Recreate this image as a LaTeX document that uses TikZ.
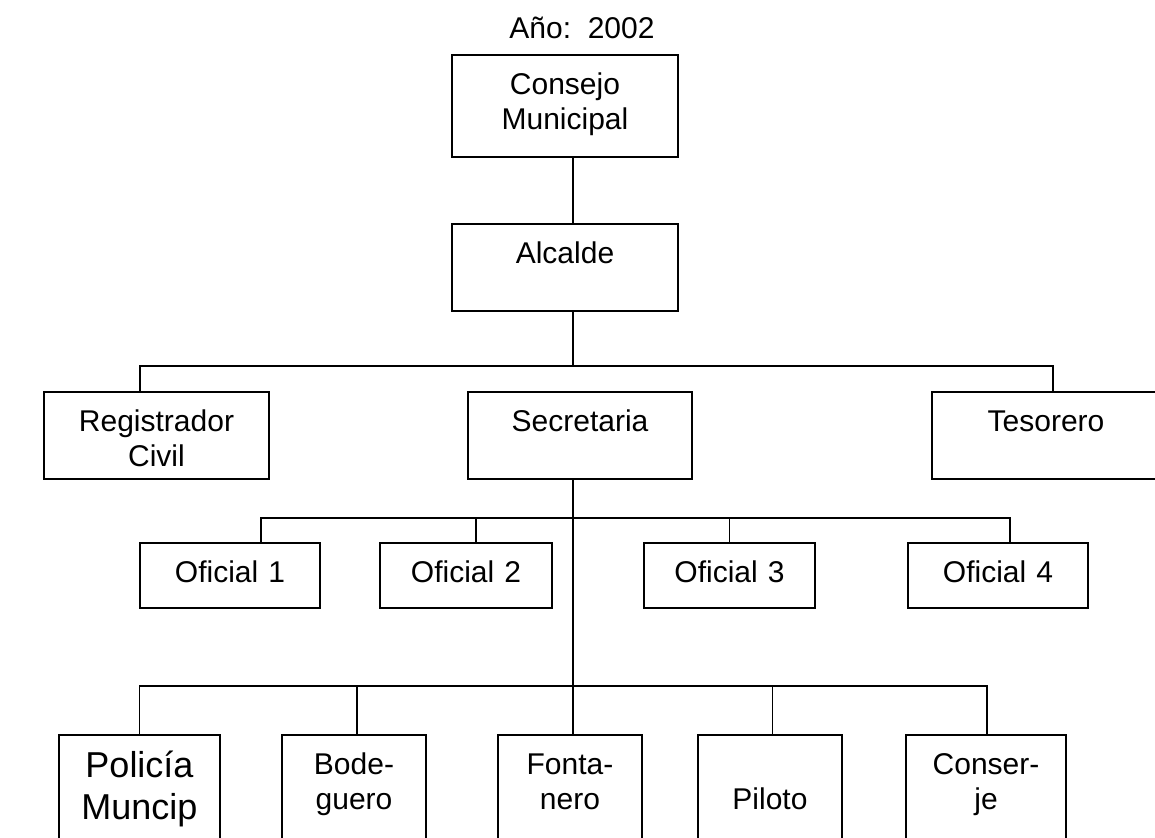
\documentclass[tikz,border=0pt]{standalone}
\usepackage{fontspec}
\setmainfont{Liberation Sans}
\usepackage{tikz}

\begin{document}
\begin{tikzpicture}[x=1pt,y=-1pt,line width=1.7pt]
\tikzstyle{every node}+=[inner sep=0pt, font=\fontsize{30}{34.5}\selectfont]
\tikzstyle{cargo}=[draw, anchor=north, align=center, text height=40pt]
\useasboundingbox (0,0) rectangle (1155,837);
\clip (0,0) rectangle (1155,837);
\node[anchor=base] (anio) at (582,39) {Año:\ \ 2002};
% jefatura
\node[cargo, text width=226pt, text depth=62pt] (consejo) at (565,54) {Consejo\\Municipal};
\node[cargo, text width=226pt, text depth=47pt] (alcalde) at (565,223) {Alcalde};
% segundo nivel
\node[cargo, text width=225pt, text depth=47pt] (registro) at (156.5,391) {Registrador\\Civil};
\node[cargo, text width=224pt, text depth=47pt] (secretaria) at (580,391) {Secretaria};
\node[cargo, text width=228pt, text depth=47pt] (tesorero) at (1046,391) {Tesorero};
% oficiales
\node[cargo, text width=180pt, text depth=25pt] (oficial1) at (230,542) {Oficial 1};
\node[cargo, text width=172pt, text depth=25pt] (oficial2) at (466,542) {Oficial 2};
\node[cargo, text width=171pt, text depth=25pt] (oficial3) at (729.5,542) {Oficial 3};
\node[cargo, text width=180pt, text depth=25pt] (oficial4) at (998,542) {Oficial 4};
% servicios
\node[cargo, text width=161pt, text height=43pt, text depth=123pt, font=\fontsize{36}{41.4}\selectfont] (policia) at (139.5,734) {Policía\\Muncip};
\node[cargo, text width=144pt, text depth=126pt] (bodeguero) at (354,734) {Bode-\\guero};
\node[cargo, text width=144pt, text depth=126pt] (fontanero) at (570,734) {Fonta-\\nero};
\node[cargo, text width=144pt, text depth=126pt] (piloto) at (770,734) {\mbox{}\\Piloto};
\node[cargo, text width=160pt, text depth=126pt] (conserje) at (986,734) {Conser-\\je};
% lineas
\coordinate (bus1) at (573,366);
\coordinate (bus2) at (573,518);
\coordinate (bus3) at (573,686);
\draw ([xshift=8pt]consejo.south) -- ([xshift=8pt]alcalde.north);
\draw ([xshift=8pt]alcalde.south) -- (bus1);
\draw (bus1) -| ([xshift=-16.5pt]registro.north);
\draw (bus1) -| ([xshift=7pt]tesorero.north);
\draw ([xshift=-7pt]secretaria.south) -- ([xshift=3pt]fontanero.north);
\draw (bus2) -| ([xshift=31pt]oficial1.north);
\draw (bus2) -| ([xshift=10pt]oficial2.north);
\draw (bus2) -| (oficial3.north);
\draw (bus2) -| ([xshift=12pt]oficial4.north);
\draw (bus3) -| (policia.north);
\draw (bus3) -| ([xshift=3pt]bodeguero.north);
\draw (bus3) -| ([xshift=2.5pt]piloto.north);
\draw (bus3) -| ([xshift=1pt]conserje.north);
\end{tikzpicture}
\end{document}
